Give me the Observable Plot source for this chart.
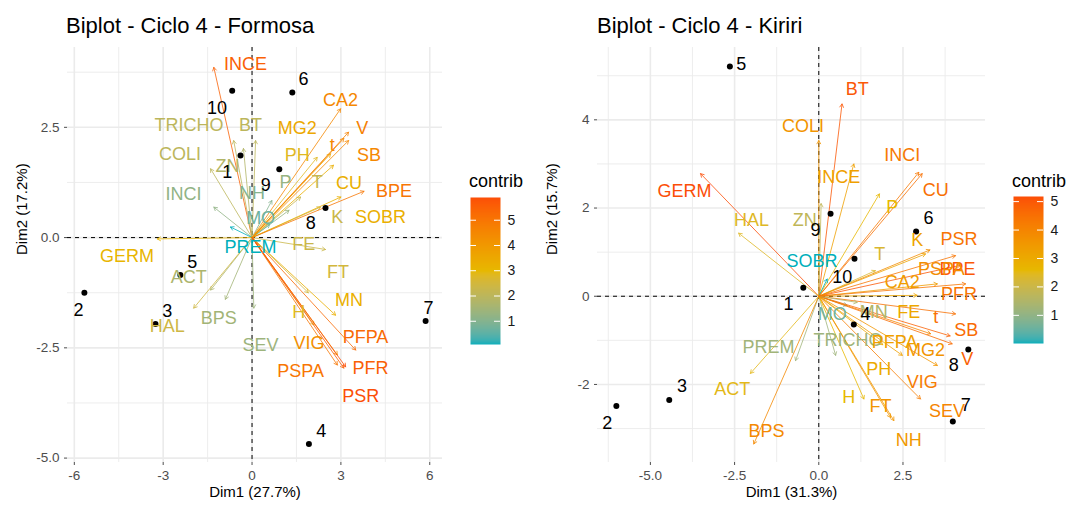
<!DOCTYPE html>
<html><head><meta charset="utf-8">
<script src="https://cdn.jsdelivr.net/npm/d3@7"></script>
<script src="https://cdn.jsdelivr.net/npm/@observablehq/plot@0.6"></script>
<style>
body{margin:0;background:#fff;font-family:"Liberation Sans",Arial,sans-serif;}
#root{position:relative;width:1068px;height:510px;overflow:hidden;background:#fff;}
.title{position:absolute;top:15px;font-size:22px;line-height:1;color:#000;white-space:nowrap;}
.ltitle{position:absolute;top:172px;font-size:18px;line-height:1;color:#000;}
.abs{position:absolute;}
</style></head>
<body><div id="root"></div>
<script>
// ---------- Formosa ----------
const formosaVars = ["INCE","TRICHO","BT","COLI","ZN","INCI","NH","P","T","MO","PREM","FE","K","SOBR","BPE","CU","SB","V","CA2","MG2","PH","t","GERM","ACT","HAL","BPS","SEV","FT","MN","H","VIG","PFPA","PFR","PSPA","PSR"];
const formosaX = [-1.29,-0.62,0.12,-1.40,-0.29,-1.29,0.67,1.25,1.64,0.60,-0.73,2.48,2.31,3.00,3.78,2.75,3.26,3.26,2.99,2.65,2.20,3.10,-3.20,-1.40,-1.97,-0.90,0.06,1.90,2.82,2.09,2.88,3.50,3.10,2.88,3.16];
const formosaY = [3.86,2.20,2.20,1.56,2.02,0.69,0.84,0.62,0.92,0.30,0.24,-0.27,0.69,0.92,1.05,1.64,2.20,2.39,2.92,1.90,1.82,2.25,-0.03,-1.19,-1.60,-1.40,-1.60,-1.25,-1.76,-1.98,-2.66,-2.55,-2.96,-2.89,-2.93];
const formosaContrib = [5.5,2.0,2.0,2.0,1.8,1.2,1.0,1.3,2.2,0.7,0.08,2.3,2.3,3.3,5.0,3.3,4.5,4.7,4.5,3.5,2.8,4.5,3.1,1.7,2.4,1.5,1.4,2.5,3.3,2.8,4.3,5.3,5.5,5.0,5.9];
const formosaLabelX = [-0.22,-2.13,-0.05,-2.43,-0.83,-2.31,0.0,1.13,2.2,0.29,-0.05,1.75,2.88,4.34,4.79,3.27,3.95,3.72,2.99,1.53,1.53,2.71,-4.22,-2.14,-2.86,-1.12,0.29,2.9,3.27,1.58,1.92,3.83,4.0,1.64,3.67];
const formosaLabelY = [3.94,2.54,2.54,1.90,1.61,0.99,1.0,1.26,1.26,0.43,-0.23,-0.14,0.47,0.47,1.05,1.24,1.86,2.49,3.12,2.49,1.86,2.09,-0.42,-0.89,-2.02,-1.82,-2.44,-0.78,-1.43,-1.70,-2.40,-2.25,-2.96,-3.04,-3.59];
const formosaInd = ["1","2","3","4","5","6","7","8","9","10"];
const formosaIndX = [-0.39,-5.66,-3.26,1.92,-2.42,1.36,5.86,2.48,0.92,-0.67];
const formosaIndY = [1.86,-1.25,-1.96,-4.68,-0.85,3.29,-1.89,0.67,1.55,3.33];
const formosaIndLabelX = [-0.84,-5.86,-2.86,2.34,-2.02,1.74,5.96,1.98,0.46,-1.18];
const formosaIndLabelY = [1.48,-1.64,-1.66,-4.38,-0.57,3.58,-1.60,0.33,1.18,2.93];
const formosaXTicks = [-6,-3,0,3,6];
const formosaYTicks = [-5,-2.5,0,2.5];
const formosaXMinor = [-4.5,-1.5,1.5,4.5];
const formosaYMinor = [-3.75,-1.25,1.25,3.75];
const formosaLegendTicks = [1,2,3,4,5];

// ---------- Kiriri ----------
const kiririVars = ["INCE","TRICHO","BT","COLI","ZN","INCI","NH","P","T","MO","PREM","FE","K","SOBR","BPE","CU","SB","V","CA2","MG2","PH","t","GERM","ACT","HAL","BPS","SEV","FT","MN","H","VIG","PFPA","PFR","PSPA","PSR"];
const kiririX = [1.04,0.5,0.69,0.0,0.07,2.97,2.13,1.8,1.68,0.84,-0.69,2.92,3.17,0.25,4.2,3.07,3.96,3.9,3.52,3.52,1.9,4.06,-3.51,-2.03,-2.38,-1.93,3.32,2.23,1.14,1.34,3.02,2.48,4.36,3.3,4.06];
const kiririY = [3.0,-1.34,4.36,3.53,2.1,2.81,-2.75,2.32,0.58,-0.21,-1.46,0.02,0.96,0.39,0.7,2.78,-1.08,-0.9,0.28,-1.57,-1.1,-0.4,2.78,-1.75,1.43,-3.35,-0.85,-2.82,-0.14,-2.33,-2.33,-1.34,0.28,1.05,0.92];
const kiririContrib = [3.3,1.2,5.0,3.6,1.8,4.3,3.5,2.6,2.3,0.6,1.25,3.1,3.2,0.01,5.0,4.5,4.6,4.8,3.4,3.6,3.0,4.5,5.18,2.5,2.4,3.9,4.0,3.6,1.5,2.6,4.2,3.3,4.4,3.8,4.4];
const kiririLabelX = [0.59,0.87,1.14,-0.47,-0.42,2.48,2.67,2.18,1.81,0.40,-1.49,2.67,2.92,-0.2,4.12,3.47,4.38,4.41,2.48,3.17,1.78,3.47,-3.99,-2.57,-2.0,-1.55,3.81,1.83,1.63,0.89,3.07,2.25,4.16,3.64,4.16];
const kiririLabelY = [2.70,-0.99,4.70,3.85,1.72,3.19,-3.26,2.02,0.96,-0.40,-1.16,-0.36,1.28,0.79,0.62,2.41,-0.78,-1.42,0.32,-1.23,-1.65,-0.48,2.38,-2.12,1.72,-3.06,-2.61,-2.50,-0.36,-2.29,-1.95,-1.04,0.04,0.62,1.30];
const kiririInd = ["1","2","3","4","5","6","7","8","9","10"];
const kiririIndX = [-0.46,-6.01,-4.44,1.04,-2.64,2.89,3.98,4.44,0.35,1.06];
const kiririIndY = [0.19,-2.49,-2.35,-0.64,5.21,1.47,-2.84,-1.21,1.87,0.85];
const kiririIndLabelX = [-0.90,-6.28,-4.06,1.39,-2.30,3.26,4.36,4.01,-0.10,0.70];
const kiririIndLabelY = [-0.19,-2.88,-2.05,-0.40,5.25,1.76,-2.48,-1.57,1.49,0.43];
const kiririXTicks = [-5,-2.5,0,2.5];
const kiririYTicks = [-2,0,2,4];
const kiririXMinor = [-6.25,-3.75,-1.25,1.25,3.75];
const kiririYMinor = [-3,-1,1,3,5];
const kiririLegendTicks = [1,2,3,4,5];

const gradientCols = ["#00AFBB","#E7B800","#FC4E07"];
const FONT = "'Liberation Sans', Arial, sans-serif";

function colorScale(contrib){
  const [lo,hi] = d3.extent(contrib);
  return {type:"linear", domain:[lo,(lo+hi)/2,hi], range:gradientCols, interpolate:"lab"};
}

function biplot(cfg){
  const vars = cfg.vars.map((n,i)=>({name:n, x:cfg.x[i], y:cfg.y[i], c:cfg.contrib[i], lx:cfg.lx[i], ly:cfg.ly[i]}));
  const inds = cfg.ind.map((n,i)=>({name:n, x:cfg.ix[i], y:cfg.iy[i], lx:cfg.ilx[i], ly:cfg.ily[i]}));
  return Plot.plot({
    width: cfg.width, height: 470,
    marginTop: 7, marginBottom: 48, marginLeft: 67, marginRight: cfg.marginRight,
    x: {domain: cfg.xDomain, label: null},
    y: {domain: cfg.yDomain, label: null},
    color: colorScale(cfg.contrib),
    style: {fontFamily: FONT, background: "transparent", overflow: "visible"},
    marks: [
      Plot.gridX(cfg.xMinor, {stroke:"#EBEBEB", strokeOpacity:1, strokeWidth:0.9}),
      Plot.gridY(cfg.yMinor, {stroke:"#EBEBEB", strokeOpacity:1, strokeWidth:0.9}),
      Plot.gridX(cfg.xTicks, {stroke:"#EBEBEB", strokeOpacity:1, strokeWidth:1.6}),
      Plot.gridY(cfg.yTicks, {stroke:"#EBEBEB", strokeOpacity:1, strokeWidth:1.6}),
      Plot.axisX(cfg.xTicks, {tickSize:3, tickPadding:5, fontSize:13.5, color:"#4D4D4D", tickFormat: cfg.xFmt, label:null}),
      Plot.axisY(cfg.yTicks, {tickSize:3, tickPadding:5, fontSize:13.5, color:"#4D4D4D", tickFormat: cfg.yFmt, label:null}),
      Plot.ruleX([0], {stroke:"#000", strokeDasharray:"4,4", strokeWidth:1}),
      Plot.ruleY([0], {stroke:"#000", strokeDasharray:"4,4", strokeWidth:1}),
      Plot.arrow(vars, {x1: () => 0, y1: () => 0, x2:"x", y2:"y", stroke:"c", strokeWidth:0.8, headLength:7, headAngle:60}),
      Plot.dot(inds, {x:"x", y:"y", r:3, fill:"#000", stroke:null}),
      Plot.text(vars, {x:"lx", y:"ly", text:"name", fill:"c", fontSize:18}),
      Plot.text(inds, {x:"lx", y:"ly", text:"name", fill:"#000", fontSize:18}),
      Plot.text([cfg.xTitle], {frameAnchor:"bottom", dy:34, fontSize:15, fill:"#000"}),
      Plot.text([cfg.yTitle], {frameAnchor:"left", dx:-45, rotate:-90, fontSize:15, fill:"#000"})
    ]
  });
}

function colorbar(contrib, ticks){
  const [lo,hi] = d3.extent(contrib);
  return Plot.plot({
    width: 60, height: 147, marginTop:0, marginBottom:0, marginLeft:0, marginRight:30,
    x: {domain:[0,1], axis:null},
    y: {domain:[lo,hi], axis:null},
    color: colorScale(contrib),
    style: {fontFamily: FONT, background:"transparent", overflow:"visible"},
    marks: [
      Plot.raster({fill:(x,y)=>y, x1:0, x2:1, y1:lo, y2:hi, width:1, height:200, imageRendering:"auto"}),
      Plot.ruleY(ticks, {x1:0, x2:0.2, stroke:"#fff", strokeWidth:1}),
      Plot.ruleY(ticks, {x1:0.8, x2:1, stroke:"#fff", strokeWidth:1}),
      Plot.axisY(ticks, {anchor:"right", tickSize:0, tickPadding:7, fontSize:14, color:"#1a1a1a", label:null})
    ]
  });
}

const root = document.getElementById("root");
function place(el, left, top){ el.classList.add("abs"); el.style.left = left+"px"; el.style.top = top+"px"; root.appendChild(el); }
function div(cls, text, left, top){ const d = document.createElement("div"); d.className = cls; d.textContent = text; d.style.left = left+"px"; if (top!=null) d.style.top = top+"px"; root.appendChild(d); }

const fmt1 = d => d.toFixed(1);
const fmt0 = d => String(d);

place(biplot({
  vars: formosaVars, x: formosaX, y: formosaY, contrib: formosaContrib, lx: formosaLabelX, ly: formosaLabelY,
  ind: formosaInd, ix: formosaIndX, iy: formosaIndY, ilx: formosaIndLabelX, ily: formosaIndLabelY,
  width: 460, marginRight: 18, xDomain: [-6.23, 6.43], yDomain: [-5.1, 4.31],
  xTicks: formosaXTicks, yTicks: formosaYTicks, xMinor: formosaXMinor, yMinor: formosaYMinor,
  xFmt: fmt0, yFmt: fmt1, xTitle: "Dim1 (27.7%)", yTitle: "Dim2 (17.2%)"
}), 0, 40);

place(biplot({
  vars: kiririVars, x: kiririX, y: kiririY, contrib: kiririContrib, lx: kiririLabelX, ly: kiririLabelY,
  ind: kiririInd, ix: kiririIndX, iy: kiririIndY, ilx: kiririIndLabelX, ily: kiririIndLabelY,
  width: 470, marginRight: 15, xDomain: [-6.57, 4.95], yDomain: [-3.77, 5.64],
  xTicks: kiririXTicks, yTicks: kiririYTicks, xMinor: kiririXMinor, yMinor: kiririYMinor,
  xFmt: fmt1, yFmt: fmt0, xTitle: "Dim1 (31.3%)", yTitle: "Dim2 (15.7%)"
}), 530, 40);

div("title", "Biplot - Ciclo 4 - Formosa", 66);
div("title", "Biplot - Ciclo 4 - Kiriri", 597);

place(colorbar(formosaContrib, formosaLegendTicks), 470, 197);
place(colorbar(kiririContrib, kiririLegendTicks), 1013, 196);
div("ltitle", "contrib", 469);
div("ltitle", "contrib", 1012);
</script>
</body></html>
